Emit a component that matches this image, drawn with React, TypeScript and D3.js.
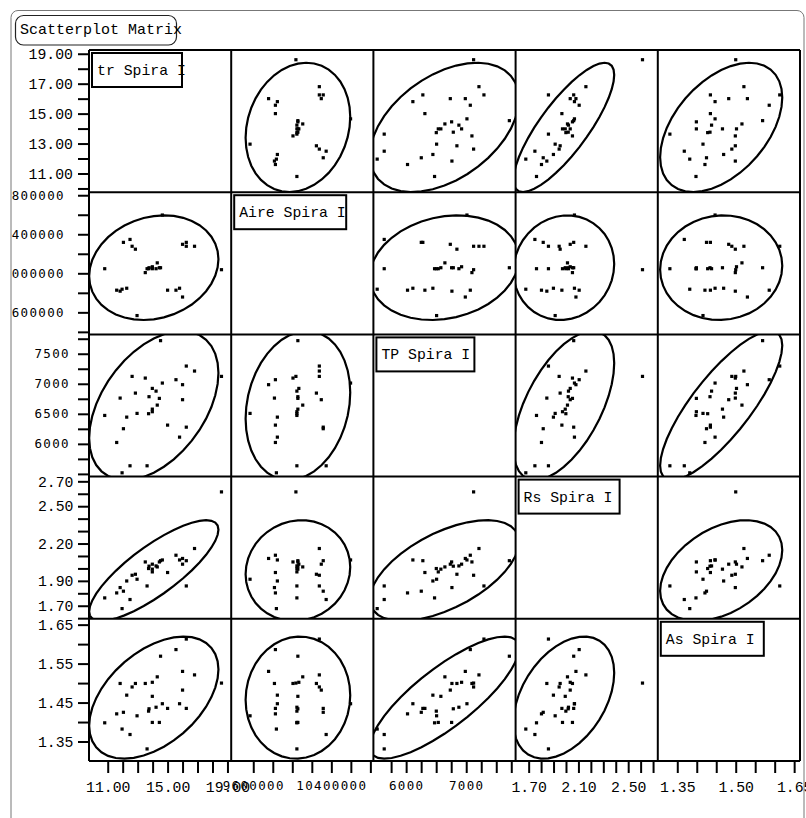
import React, { useEffect, useRef } from "react";
import * as d3 from "d3";

// variable names shown on the diagonal
const varNames = ["tr Spira I", "Aire Spira I", "TP Spira I", "Rs Spira I", "As Spira I"];

// one value per specimen (31 rows)
const trValues = [10.80, 11.60, 11.83, 11.96, 12.05, 12.27, 12.49, 12.63, 12.85, 12.96, 13.51, 13.63, 13.76, 13.73, 13.98, 13.98, 13.98, 14.23, 14.31, 14.45, 14.53, 14.65, 15.00, 15.56, 15.80, 16.00, 16.00, 16.25, 16.25, 16.80, 18.60];
const aireValues = [10047000, 9827000, 9817000, 9837000, 10317000, 9847000, 10347000, 10277000, 10247000, 9567000, 10007000, 10047000, 10057000, 10047000, 10067000, 10057000, 10047000, 10047000, 10107000, 10057000, 10057000, 10597000, 9827000, 9827000, 9847000, 9757000, 10297000, 10277000, 10317000, 10277000, 10037000];
const tpValues = [6473, 6023, 6762, 5518, 6252, 6445, 5635, 7123, 6845, 6507, 7095, 5635, 6785, 6502, 6923, 6578, 6535, 6878, 6645, 6757, 7718, 7012, 6312, 7068, 6112, 6985, 6735, 7295, 6278, 7212, 7123];
const rsValues = [1.763, 1.803, 1.846, 1.677, 1.817, 1.899, 1.750, 1.945, 1.953, 1.913, 2.052, 1.859, 2.018, 1.999, 2.034, 1.994, 1.972, 2.020, 2.012, 2.052, 2.062, 2.068, 1.967, 2.106, 2.068, 2.080, 2.034, 1.859, 2.062, 2.160, 2.615];
const asValues = [1.398, 1.421, 1.499, 1.382, 1.425, 1.469, 1.368, 1.490, 1.499, 1.416, 1.499, 1.331, 1.434, 1.428, 1.502, 1.466, 1.399, 1.438, 1.516, 1.399, 1.569, 1.447, 1.435, 1.586, 1.447, 1.530, 1.482, 1.613, 1.435, 1.521, 1.500];

// axis ranges
const trDomain = [9.75, 19.25];
const aireDomain = [9374000, 10831000];
const tpDomain = [5455, 7822];
const rsDomain = [1.595, 2.738];
const asDomain = [1.3, 1.665];

// tick spacing and labelled ticks
const tickSteps = [1, 200000, 250, 0.1, 0.05];
const trYLabels = [11, 13, 15, 17, 19];
const aireYLabels = [9600000, 10000000, 10400000, 10800000];
const tpYLabels = [6000, 6500, 7000, 7500];
const rsYLabels = [1.7, 1.9, 2.2, 2.5, 2.7];
const asYLabels = [1.35, 1.45, 1.55, 1.65];
const trXLabels = [11, 15, 19];
const aireXLabels = [9600000, 10400000];
const tpXLabels = [6000, 7000];
const rsXLabels = [1.7, 2.1, 2.5];
const asXLabels = [1.35, 1.5, 1.65];

const width = 806;
const height = 818;
const left = 89;
const top = 50;
const cell = 142.2;
const courier = "'Liberation Mono', 'Courier New', monospace";
const sansMono = "'DejaVu Sans Mono', monospace";
const labelBoxWidths = [90, 112, 98, 101, 103];

export default function App() {
  const ref = useRef<SVGSVGElement>(null);

  useEffect(() => {
    const svg = d3.select(ref.current);
    svg.selectAll("*").remove();

    const columns = [trValues, aireValues, tpValues, rsValues, asValues];
    const domains = [trDomain, aireDomain, tpDomain, rsDomain, asDomain];
    const yLabels = [trYLabels, aireYLabels, tpYLabels, rsYLabels, asYLabels];
    const xLabels = [trXLabels, aireXLabels, tpXLabels, rsXLabels, asXLabels];
    const formats = [d3.format(".2f"), d3.format("d"), d3.format("d"), d3.format(".2f"), d3.format(".2f")];
    const fonts = [courier, sansMono, sansMono, courier, courier];
    const n = columns.length;

    const xs = domains.map((d, i) =>
      d3.scaleLinear().domain(d).range([left + i * cell, left + (i + 1) * cell]));
    const ys = domains.map((d, i) =>
      d3.scaleLinear().domain(d).range([top + (i + 1) * cell, top + i * cell]));

    const defs = svg.append("defs");
    for (let r = 0; r < n; r++) {
      for (let c = 0; c < n; c++) {
        defs.append("clipPath").attr("id", `cell-${r}-${c}`)
          .append("rect")
          .attr("x", left + c * cell).attr("y", top + r * cell)
          .attr("width", cell).attr("height", cell);
      }
    }
    defs.append("clipPath").attr("id", "frame-clip")
      .append("rect").attr("x", 11).attr("y", 0).attr("width", width).attr("height", height);

    // outer frame
    svg.append("rect")
      .attr("x", 11).attr("y", 10.5).attr("width", 793).attr("height", 860)
      .attr("rx", 7).attr("fill", "none").attr("stroke", "#777").attr("stroke-width", 1);

    // title
    svg.append("rect")
      .attr("x", 15.5).attr("y", 15.5).attr("width", 161).attr("height", 29.5)
      .attr("rx", 8).attr("fill", "white").attr("stroke", "#222").attr("stroke-width", 1.2);
    svg.append("text")
      .attr("x", 20).attr("y", 34)
      .style("font-family", courier).style("font-size", "15px")
      .text("Scatterplot Matrix");

    const ticksFor = (i: number) => {
      const step = tickSteps[i];
      const [d0, d1] = domains[i];
      return d3.range(Math.ceil(d0 / step - 1e-9), Math.floor(d1 / step + 1e-9) + 1)
        .map((k) => +(k * step).toFixed(6));
    };
    const labelFormat = (i: number, labels: number[]) => (d: d3.NumberValue) =>
      labels.some((l) => Math.abs(l - +d) < tickSteps[i] * 1e-3) ? formats[i](+d) : "";

    // density ellipse (95%)
    const radius = Math.sqrt(-2 * Math.log(0.05));
    const ellipseLine = d3.line<[number, number]>().curve(d3.curveLinearClosed);

    for (let r = 0; r < n; r++) {
      for (let c = 0; c < n; c++) {
        if (r === c) continue;
        const g = svg.append("g").attr("clip-path", `url(#cell-${r}-${c})`);
        const xv = columns[c];
        const yv = columns[r];
        const mx = d3.mean(xv)!;
        const my = d3.mean(yv)!;
        const sx = d3.deviation(xv)!;
        const sy = d3.deviation(yv)!;
        const rho = d3.sum(xv.map((v, k) => (v - mx) * (yv[k] - my))) / ((xv.length - 1) * sx * sy);
        const pts: [number, number][] = d3.range(40).map((k) => {
          const t = (k / 40) * 2 * Math.PI;
          const vx = mx + radius * sx * Math.cos(t);
          const vy = my + radius * sy * (rho * Math.cos(t) + Math.sqrt(1 - rho * rho) * Math.sin(t));
          return [xs[c](vx), ys[r](vy)];
        });
        g.append("path")
          .attr("d", ellipseLine(pts))
          .attr("fill", "none").attr("stroke", "black").attr("stroke-width", 2.2);
        g.selectAll("rect.pt").data(xv).join("rect")
          .attr("class", "pt")
          .attr("x", (d) => xs[c](d) - 1.6)
          .attr("y", (_d, k) => ys[r](yv[k]) - 1.6)
          .attr("width", 3.2).attr("height", 3.2)
          .attr("fill", "black");
      }
    }

    // grid lines
    const grid = svg.append("g").attr("stroke", "black").attr("stroke-width", 2);
    for (let i = 0; i <= n; i++) {
      grid.append("line")
        .attr("x1", left + i * cell).attr("x2", left + i * cell)
        .attr("y1", top).attr("y2", top + n * cell);
      grid.append("line")
        .attr("x1", left).attr("x2", left + n * cell)
        .attr("y1", top + i * cell).attr("y2", top + i * cell);
    }

    // diagonal name boxes
    varNames.forEach((name, i) => {
      const x0 = left + i * cell;
      const y0 = top + i * cell;
      svg.append("rect")
        .attr("x", x0 + 3).attr("y", y0 + 3)
        .attr("width", labelBoxWidths[i]).attr("height", 34)
        .attr("fill", "white").attr("stroke", "black").attr("stroke-width", 2);
      svg.append("text")
        .attr("x", x0 + 8).attr("y", y0 + 25)
        .style("font-family", courier).style("font-size", "14.8px")
        .text(name);
    });

    // left axes
    const leftPads = [5, 13, 8, 4.5, 4.5];
    const leftAxes = svg.append("g").attr("clip-path", "url(#frame-clip)");
    for (let i = 0; i < n; i++) {
      const cellTop = top + i * cell;
      const vals = ticksFor(i).filter((v) => {
        const p = ys[i](v);
        return p > cellTop + 0.5 && p < cellTop + cell - 0.5;
      });
      const ax = leftAxes.append("g")
        .attr("transform", `translate(${left},0)`)
        .call(d3.axisLeft(ys[i]).tickValues(vals).tickSize(11).tickPadding(leftPads[i])
          .tickFormat(labelFormat(i, yLabels[i])));
      ax.select(".domain").remove();
      ax.selectAll(".tick line").attr("stroke", "black").attr("stroke-width", 2);
      ax.selectAll(".tick text")
        .attr("fill", "black")
        .style("font-family", fonts[i])
        .style("font-size", fonts[i] === courier ? "14.8px" : "12.5px")
        .style("letter-spacing", fonts[i] === courier ? "0px" : "1.35px");
    }

    // bottom axes
    for (let i = 0; i < n; i++) {
      const cellLeft = left + i * cell;
      const vals = ticksFor(i).filter((v) => {
        const p = xs[i](v);
        return p > cellLeft + 4 && p < cellLeft + cell - 0.5;
      });
      const ax = svg.append("g")
        .attr("transform", `translate(0,${top + n * cell})`)
        .call(d3.axisBottom(xs[i]).tickValues(vals).tickSize(12).tickPadding(8)
          .tickFormat(labelFormat(i, xLabels[i])));
      ax.select(".domain").remove();
      ax.selectAll(".tick line").attr("stroke", "black").attr("stroke-width", 2);
      ax.selectAll(".tick text")
        .attr("fill", "black")
        .style("font-family", fonts[i])
        .style("font-size", fonts[i] === courier ? "14.8px" : "12.5px")
        .style("letter-spacing", fonts[i] === courier ? "0px" : "1.35px");
    }
  }, []);

  return (
    <svg
      ref={ref}
      width={width}
      height={height}
      style={{ position: "absolute", left: 0, top: 0, background: "white" }}
    />
  );
}
